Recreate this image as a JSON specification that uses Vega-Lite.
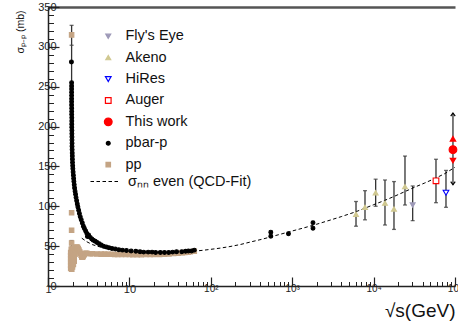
{
  "$schema": "https://vega.github.io/schema/vega-lite/v6.json",
  "width": 407,
  "height": 279,
  "autosize": "none",
  "padding": {"left": 48, "top": 7, "right": 3, "bottom": 41},
  "background": "white",
  "datasets": {
    "pts": [
      {"series": "pp", "s": 1.95, "sigma": 315},
      {"series": "pp", "s": 1.95, "sigma": 92},
      {"series": "pp", "s": 1.95, "sigma": 70},
      {"series": "pp", "s": 1.95, "sigma": 54},
      {"series": "pp", "s": 1.9, "sigma": 22}, {"series": "pp", "s": 1.9, "sigma": 26}, {"series": "pp", "s": 1.9, "sigma": 30}, {"series": "pp", "s": 1.9, "sigma": 34}, {"series": "pp", "s": 1.9, "sigma": 38}, {"series": "pp", "s": 1.9, "sigma": 42},
      {"series": "pp", "s": 1.93, "sigma": 24}, {"series": "pp", "s": 1.93, "sigma": 29}, {"series": "pp", "s": 1.93, "sigma": 35}, {"series": "pp", "s": 1.93, "sigma": 41}, {"series": "pp", "s": 1.93, "sigma": 46},
      {"series": "pp", "s": 1.96, "sigma": 21}, {"series": "pp", "s": 1.96, "sigma": 27}, {"series": "pp", "s": 1.96, "sigma": 33}, {"series": "pp", "s": 1.96, "sigma": 39}, {"series": "pp", "s": 1.96, "sigma": 45},
      {"series": "pp", "s": 2.0, "sigma": 24}, {"series": "pp", "s": 2.0, "sigma": 30}, {"series": "pp", "s": 2.0, "sigma": 36}, {"series": "pp", "s": 2.0, "sigma": 42}, {"series": "pp", "s": 2.0, "sigma": 47},
      {"series": "pp", "s": 2.05, "sigma": 27}, {"series": "pp", "s": 2.05, "sigma": 33}, {"series": "pp", "s": 2.05, "sigma": 39}, {"series": "pp", "s": 2.05, "sigma": 45},
      {"series": "pp", "s": 2.1, "sigma": 31}, {"series": "pp", "s": 2.1, "sigma": 37}, {"series": "pp", "s": 2.1, "sigma": 43}, {"series": "pp", "s": 2.1, "sigma": 47},
      {"series": "pp", "s": 2.15, "sigma": 40}, {"series": "pp", "s": 2.15, "sigma": 47},
      {"series": "pp", "s": 2.2, "sigma": 48}, {"series": "pp", "s": 2.25, "sigma": 49}, {"series": "pp", "s": 2.3, "sigma": 48.5}, {"series": "pp", "s": 2.35, "sigma": 47}, {"series": "pp", "s": 2.4, "sigma": 45}, {"series": "pp", "s": 2.45, "sigma": 43}, {"series": "pp", "s": 2.5, "sigma": 41}, {"series": "pp", "s": 2.55, "sigma": 38.5}, {"series": "pp", "s": 2.6, "sigma": 36.5}, {"series": "pp", "s": 2.65, "sigma": 36}, {"series": "pp", "s": 2.7, "sigma": 37}, {"series": "pp", "s": 2.75, "sigma": 38.5}, {"series": "pp", "s": 2.8, "sigma": 40}, {"series": "pp", "s": 2.9, "sigma": 41},
      {"series": "pp", "s": 3.0, "sigma": 41}, {"series": "pp", "s": 3.3, "sigma": 40.5}, {"series": "pp", "s": 3.5, "sigma": 40.5}, {"series": "pp", "s": 4, "sigma": 40.2}, {"series": "pp", "s": 4.5, "sigma": 40}, {"series": "pp", "s": 5, "sigma": 40}, {"series": "pp", "s": 5.5, "sigma": 39.8}, {"series": "pp", "s": 6, "sigma": 39.8}, {"series": "pp", "s": 6.6, "sigma": 39.6}, {"series": "pp", "s": 7.2, "sigma": 39.5}, {"series": "pp", "s": 8, "sigma": 39.5}, {"series": "pp", "s": 9, "sigma": 39.5}, {"series": "pp", "s": 10, "sigma": 39.5}, {"series": "pp", "s": 11, "sigma": 39.3}, {"series": "pp", "s": 12.5, "sigma": 39.3}, {"series": "pp", "s": 14, "sigma": 39.4}, {"series": "pp", "s": 16, "sigma": 39.5}, {"series": "pp", "s": 18, "sigma": 39.6}, {"series": "pp", "s": 20, "sigma": 39.7}, {"series": "pp", "s": 22, "sigma": 39.8}, {"series": "pp", "s": 23.5, "sigma": 39.5}, {"series": "pp", "s": 25, "sigma": 39.8}, {"series": "pp", "s": 27, "sigma": 40}, {"series": "pp", "s": 30.6, "sigma": 40.3}, {"series": "pp", "s": 35, "sigma": 40.8}, {"series": "pp", "s": 40, "sigma": 41.2}, {"series": "pp", "s": 44.7, "sigma": 41.6}, {"series": "pp", "s": 48, "sigma": 42}, {"series": "pp", "s": 52.8, "sigma": 42.5}, {"series": "pp", "s": 56, "sigma": 43}, {"series": "pp", "s": 62.7, "sigma": 43.5},
      {"series": "pbar-p", "s": 1.94, "sigma": 281},
      {"series": "pbar-p", "s": 1.95, "sigma": 255}, {"series": "pbar-p", "s": 1.95, "sigma": 251}, {"series": "pbar-p", "s": 1.95, "sigma": 247}, {"series": "pbar-p", "s": 1.95, "sigma": 243}, {"series": "pbar-p", "s": 1.95, "sigma": 239}, {"series": "pbar-p", "s": 1.95, "sigma": 235}, {"series": "pbar-p", "s": 1.95, "sigma": 231}, {"series": "pbar-p", "s": 1.95, "sigma": 227},
      {"series": "pbar-p", "s": 1.955, "sigma": 223}, {"series": "pbar-p", "s": 1.955, "sigma": 219}, {"series": "pbar-p", "s": 1.955, "sigma": 215}, {"series": "pbar-p", "s": 1.96, "sigma": 211}, {"series": "pbar-p", "s": 1.96, "sigma": 207}, {"series": "pbar-p", "s": 1.96, "sigma": 203}, {"series": "pbar-p", "s": 1.96, "sigma": 199}, {"series": "pbar-p", "s": 1.965, "sigma": 195}, {"series": "pbar-p", "s": 1.965, "sigma": 191}, {"series": "pbar-p", "s": 1.97, "sigma": 187}, {"series": "pbar-p", "s": 1.97, "sigma": 183}, {"series": "pbar-p", "s": 1.975, "sigma": 179}, {"series": "pbar-p", "s": 1.975, "sigma": 175}, {"series": "pbar-p", "s": 1.98, "sigma": 171}, {"series": "pbar-p", "s": 1.985, "sigma": 167}, {"series": "pbar-p", "s": 1.99, "sigma": 163}, {"series": "pbar-p", "s": 1.995, "sigma": 159}, {"series": "pbar-p", "s": 2.0, "sigma": 155}, {"series": "pbar-p", "s": 2.01, "sigma": 151}, {"series": "pbar-p", "s": 2.02, "sigma": 147}, {"series": "pbar-p", "s": 2.035, "sigma": 143}, {"series": "pbar-p", "s": 2.05, "sigma": 139}, {"series": "pbar-p", "s": 2.065, "sigma": 135}, {"series": "pbar-p", "s": 2.08, "sigma": 131}, {"series": "pbar-p", "s": 2.1, "sigma": 127}, {"series": "pbar-p", "s": 2.12, "sigma": 123}, {"series": "pbar-p", "s": 2.15, "sigma": 119}, {"series": "pbar-p", "s": 2.18, "sigma": 115}, {"series": "pbar-p", "s": 2.21, "sigma": 111}, {"series": "pbar-p", "s": 2.25, "sigma": 107}, {"series": "pbar-p", "s": 2.29, "sigma": 103}, {"series": "pbar-p", "s": 2.33, "sigma": 99}, {"series": "pbar-p", "s": 2.38, "sigma": 95}, {"series": "pbar-p", "s": 2.43, "sigma": 91}, {"series": "pbar-p", "s": 2.49, "sigma": 87}, {"series": "pbar-p", "s": 2.56, "sigma": 83}, {"series": "pbar-p", "s": 2.64, "sigma": 79}, {"series": "pbar-p", "s": 2.72, "sigma": 75}, {"series": "pbar-p", "s": 2.8, "sigma": 72}, {"series": "pbar-p", "s": 2.9, "sigma": 69}, {"series": "pbar-p", "s": 3.0, "sigma": 66}, {"series": "pbar-p", "s": 3.05, "sigma": 62}, {"series": "pbar-p", "s": 3.15, "sigma": 64}, {"series": "pbar-p", "s": 3.3, "sigma": 61}, {"series": "pbar-p", "s": 3.45, "sigma": 59}, {"series": "pbar-p", "s": 3.6, "sigma": 57.5}, {"series": "pbar-p", "s": 3.8, "sigma": 56}, {"series": "pbar-p", "s": 4.0, "sigma": 54.5}, {"series": "pbar-p", "s": 4.25, "sigma": 53}, {"series": "pbar-p", "s": 4.5, "sigma": 51.5}, {"series": "pbar-p", "s": 4.8, "sigma": 50}, {"series": "pbar-p", "s": 5.2, "sigma": 49}, {"series": "pbar-p", "s": 5.6, "sigma": 48}, {"series": "pbar-p", "s": 6.1, "sigma": 47}, {"series": "pbar-p", "s": 6.7, "sigma": 46.5}, {"series": "pbar-p", "s": 7.4, "sigma": 45.5}, {"series": "pbar-p", "s": 8.2, "sigma": 45}, {"series": "pbar-p", "s": 9.2, "sigma": 44.5}, {"series": "pbar-p", "s": 10.5, "sigma": 44}, {"series": "pbar-p", "s": 12, "sigma": 43.5}, {"series": "pbar-p", "s": 13.5, "sigma": 43}, {"series": "pbar-p", "s": 15, "sigma": 42.5}, {"series": "pbar-p", "s": 17, "sigma": 42.5}, {"series": "pbar-p", "s": 19, "sigma": 42.5}, {"series": "pbar-p", "s": 21, "sigma": 42}, {"series": "pbar-p", "s": 24, "sigma": 42}, {"series": "pbar-p", "s": 27, "sigma": 42}, {"series": "pbar-p", "s": 30.4, "sigma": 42}, {"series": "pbar-p", "s": 34, "sigma": 42.5}, {"series": "pbar-p", "s": 38, "sigma": 43}, {"series": "pbar-p", "s": 44, "sigma": 43}, {"series": "pbar-p", "s": 49, "sigma": 43.5}, {"series": "pbar-p", "s": 53, "sigma": 44}, {"series": "pbar-p", "s": 58, "sigma": 44}, {"series": "pbar-p", "s": 62.7, "sigma": 45},
      {"series": "pbar-p", "s": 546, "sigma": 62.5}, {"series": "pbar-p", "s": 546, "sigma": 67.5}, {"series": "pbar-p", "s": 900, "sigma": 65.5}, {"series": "pbar-p", "s": 1800, "sigma": 72.5}, {"series": "pbar-p", "s": 1800, "sigma": 79.5},
      {"series": "Akeno", "s": 6080, "sigma": 90}, {"series": "Akeno", "s": 7840, "sigma": 98.7}, {"series": "Akeno", "s": 10600, "sigma": 117}, {"series": "Akeno", "s": 13800, "sigma": 104}, {"series": "Akeno", "s": 17800, "sigma": 96.6}, {"series": "Akeno", "s": 24300, "sigma": 124.6},
      {"series": "Fly's Eye", "s": 30200, "sigma": 101.6},
      {"series": "Auger", "s": 58400, "sigma": 132},
      {"series": "HiRes", "s": 77500, "sigma": 117},
      {"series": "This work", "s": 94400, "sigma": 171}
    ],
    "fit": [
      {"curve": "σₙₙ even (QCD-Fit)", "s": 2.6, "sigma": 60}, {"curve": "σₙₙ even (QCD-Fit)", "s": 3, "sigma": 55.5}, {"curve": "σₙₙ even (QCD-Fit)", "s": 3.5, "sigma": 52}, {"curve": "σₙₙ even (QCD-Fit)", "s": 4, "sigma": 50}, {"curve": "σₙₙ even (QCD-Fit)", "s": 5, "sigma": 47.5}, {"curve": "σₙₙ even (QCD-Fit)", "s": 6.3, "sigma": 45.5}, {"curve": "σₙₙ even (QCD-Fit)", "s": 8, "sigma": 44}, {"curve": "σₙₙ even (QCD-Fit)", "s": 10, "sigma": 43}, {"curve": "σₙₙ even (QCD-Fit)", "s": 13, "sigma": 42}, {"curve": "σₙₙ even (QCD-Fit)", "s": 16, "sigma": 41.5}, {"curve": "σₙₙ even (QCD-Fit)", "s": 20, "sigma": 41.2}, {"curve": "σₙₙ even (QCD-Fit)", "s": 25, "sigma": 41.2}, {"curve": "σₙₙ even (QCD-Fit)", "s": 32, "sigma": 41.5}, {"curve": "σₙₙ even (QCD-Fit)", "s": 40, "sigma": 42}, {"curve": "σₙₙ even (QCD-Fit)", "s": 50, "sigma": 42.8}, {"curve": "σₙₙ even (QCD-Fit)", "s": 63, "sigma": 43.7}, {"curve": "σₙₙ even (QCD-Fit)", "s": 80, "sigma": 44.8}, {"curve": "σₙₙ even (QCD-Fit)", "s": 100, "sigma": 46}, {"curve": "σₙₙ even (QCD-Fit)", "s": 130, "sigma": 47.5}, {"curve": "σₙₙ even (QCD-Fit)", "s": 172, "sigma": 49.5}, {"curve": "σₙₙ even (QCD-Fit)", "s": 230, "sigma": 52}, {"curve": "σₙₙ even (QCD-Fit)", "s": 316, "sigma": 55.5}, {"curve": "σₙₙ even (QCD-Fit)", "s": 420, "sigma": 58.5}, {"curve": "σₙₙ even (QCD-Fit)", "s": 562, "sigma": 62}, {"curve": "σₙₙ even (QCD-Fit)", "s": 750, "sigma": 65.5}, {"curve": "σₙₙ even (QCD-Fit)", "s": 1000, "sigma": 69}, {"curve": "σₙₙ even (QCD-Fit)", "s": 1400, "sigma": 73}, {"curve": "σₙₙ even (QCD-Fit)", "s": 2000, "sigma": 77.5}, {"curve": "σₙₙ even (QCD-Fit)", "s": 3000, "sigma": 83}, {"curve": "σₙₙ even (QCD-Fit)", "s": 4000, "sigma": 87}, {"curve": "σₙₙ even (QCD-Fit)", "s": 6000, "sigma": 93}, {"curve": "σₙₙ even (QCD-Fit)", "s": 8000, "sigma": 98}, {"curve": "σₙₙ even (QCD-Fit)", "s": 10000, "sigma": 102}, {"curve": "σₙₙ even (QCD-Fit)", "s": 13800, "sigma": 107.5}, {"curve": "σₙₙ even (QCD-Fit)", "s": 18000, "sigma": 112.5}, {"curve": "σₙₙ even (QCD-Fit)", "s": 24300, "sigma": 118.5}, {"curve": "σₙₙ even (QCD-Fit)", "s": 32000, "sigma": 124}, {"curve": "σₙₙ even (QCD-Fit)", "s": 42000, "sigma": 129}, {"curve": "σₙₙ even (QCD-Fit)", "s": 57000, "sigma": 135}, {"curve": "σₙₙ even (QCD-Fit)", "s": 75000, "sigma": 141}, {"curve": "σₙₙ even (QCD-Fit)", "s": 100000, "sigma": 149}
    ],
    "err": [
      {"s": 1.95, "lo": 302, "hi": 327},
      {"s": 1.95, "lo": 49, "hi": 57},
      {"s": 6080, "lo": 75, "hi": 106},
      {"s": 7840, "lo": 83, "hi": 119.6},
      {"s": 10600, "lo": 100, "hi": 134},
      {"s": 13800, "lo": 76.5, "hi": 133},
      {"s": 17800, "lo": 71, "hi": 131},
      {"s": 24300, "lo": 101.6, "hi": 163},
      {"s": 30200, "lo": 82, "hi": 125.5},
      {"s": 58400, "lo": 104.5, "hi": 159},
      {"s": 77500, "lo": 98.7, "hi": 145}
    ],
    "bars": [
      {"s": 1.95, "lo": 255, "hi": 302},
      {"s": 94400, "lo": 127, "hi": 217}
    ],
    "tw": [
      {"s": 94400, "sigma": 185, "part": "up"},
      {"s": 94400, "sigma": 157, "part": "down"}
    ],
    "arrows": [
      {"s": 94400, "sigma": 217, "dir": "up"},
      {"s": 94400, "sigma": 127, "dir": "down"}
    ]
  },
  "resolve": {"axis": {"x": "independent", "y": "independent"}},
  "layer": [
    {
      "data": {"name": "err"},
      "mark": {"type": "errorbar", "ticks": {"size": 4}, "color": "#333333", "thickness": 1.3},
      "encoding": {
        "x": {"field": "s", "type": "quantitative", "scale": {"type": "log", "domain": [1, 100000], "nice": false}, "axis": null},
        "y": {"field": "lo", "type": "quantitative", "scale": {"domain": [0, 350], "nice": false, "zero": false}, "axis": null},
        "y2": {"field": "hi"}
      }
    },
    {
      "data": {"name": "bars"},
      "mark": {"type": "rule", "color": "#333333", "strokeWidth": 1.3},
      "encoding": {
        "x": {"field": "s", "type": "quantitative", "scale": {"type": "log", "domain": [1, 100000], "nice": false},
          "axis": {"orient": "bottom", "values": [2,3,4,5,6,7,8,9,20,30,40,50,60,70,80,90,200,300,400,500,600,700,800,900,2000,3000,4000,5000,6000,7000,8000,9000,20000,30000,40000,50000,60000,70000,80000,90000], "labels": false, "tickSize": -4.5, "tickColor": "#222222", "tickWidth": 1, "domain": false, "title": null, "grid": false}},
        "y": {"field": "lo", "type": "quantitative", "scale": {"domain": [0, 350], "nice": false, "zero": false}, "axis": null},
        "y2": {"field": "hi"}
      }
    },
    {
      "data": {"name": "fit"},
      "mark": {"type": "line", "color": "#000000", "strokeWidth": 1},
      "encoding": {
        "x": {"field": "s", "type": "quantitative", "scale": {"type": "log", "domain": [1, 100000], "nice": false},
          "axis": {"orient": "top", "ticks": false, "labels": false, "domain": true, "domainColor": "#555555", "domainWidth": 2.5, "title": null, "grid": false}},
        "y": {"field": "sigma", "type": "quantitative", "scale": {"domain": [0, 350], "nice": false, "zero": false}, "axis": null},
        "strokeDash": {"field": "curve", "type": "nominal", "scale": {"range": [[3.5, 2.5]]},
          "legend": {"title": null, "orient": "none", "legendX": 42, "legendY": 159, "symbolType": "stroke", "symbolSize": 900, "symbolStrokeColor": "#000000", "symbolStrokeWidth": 1, "labelFontSize": 14.5, "labelFont": "Liberation Sans", "labelColor": "#111111", "labelOffset": 7, "labelLimit": 300, "padding": 0}}
      }
    },
    {
      "data": {"name": "pts"},
      "mark": {"type": "point", "filled": true, "strokeWidth": 1.1, "opacity": 1},
      "encoding": {
        "x": {"field": "s", "type": "quantitative", "scale": {"type": "log", "domain": [1, 100000], "nice": false},
          "axis": {"orient": "bottom", "values": [1, 10, 100, 1000, 10000, 100000],
            "labelExpr": "datum.value == 1 ? '1' : datum.value == 10 ? '10' : datum.value == 100 ? '10²' : datum.value == 1000 ? '10³' : datum.value == 10000 ? '10⁴' : '10⁵'",
            "labelFontSize": {"condition": {"test": "datum.value >= 100", "value": 10}, "value": 11},
            "labelFont": "Liberation Sans", "labelColor": "#222222", "labelPadding": 6, "labelFlush": false, "labelOverlap": false, "labelBound": false,
            "tickSize": -9, "tickColor": "#222222", "tickWidth": 1.2, "domainColor": "#222222", "domainWidth": 1.5, "grid": false,
            "title": "√s(GeV)", "titleFont": "Liberation Sans", "titleFontSize": 19, "titleFontWeight": "normal", "titleColor": "#111111",
            "titleX": 407, "titleY": 30, "titleAlign": "right", "titleBaseline": "alphabetic"}},
        "y": {"field": "sigma", "type": "quantitative", "scale": {"domain": [0, 350], "nice": false, "zero": false},
          "axis": {"orient": "left", "values": [0, 50, 100, 150, 200, 250, 300, 350], "labelFontSize": 11, "labelFont": "Liberation Sans", "labelColor": "#222222", "labelPadding": 3,
            "tickSize": -11, "tickColor": "#222222", "tickWidth": 1.2, "domainColor": "#222222", "domainWidth": 1.5, "grid": false,
            "title": "σₚ₋ₚ (mb)", "titleFont": "Liberation Sans", "titleFontSize": 10.5, "titleFontWeight": "normal", "titleColor": "#111111",
            "titleAngle": -90, "titleX": -25, "titleY": 3, "titleAlign": "right", "titleBaseline": "alphabetic"}},
        "shape": {"field": "series", "type": "nominal",
          "scale": {"domain": ["Fly's Eye", "Akeno", "HiRes", "Auger", "This work", "pbar-p", "pp"], "range": ["triangle-down", "triangle-up", "triangle-down", "square", "circle", "circle", "square"]},
          "legend": {"title": null, "orient": "none", "legendX": 53, "legendY": 22, "labelFontSize": 14.5, "labelFont": "Liberation Sans", "labelColor": "#111111", "labelOffset": 10, "rowPadding": 6.4, "padding": 0, "labelLimit": 300, "symbolStrokeWidth": 1.2, "symbolOpacity": 1}},
        "fill": {"field": "series", "type": "nominal",
          "scale": {"type": "ordinal", "domain": ["Fly's Eye", "Akeno", "HiRes", "Auger", "This work", "pbar-p", "pp"], "range": ["#9e9ab8", "#d0c890", "#ffffff", "#ffffff", "#ff0000", "#000000", "#c4a484"]},
          "legend": {"title": null, "orient": "none", "legendX": 53, "legendY": 22, "labelFontSize": 14.5, "labelFont": "Liberation Sans", "labelColor": "#111111", "labelOffset": 10, "rowPadding": 6.4, "padding": 0, "labelLimit": 300, "symbolStrokeWidth": 1.2, "symbolOpacity": 1}},
        "stroke": {"field": "series", "type": "nominal",
          "scale": {"type": "ordinal", "domain": ["Fly's Eye", "Akeno", "HiRes", "Auger", "This work", "pbar-p", "pp"], "range": ["#9e9ab8", "#d0c890", "#0000ff", "#ff0000", "#ff0000", "#000000", "#c4a484"]},
          "legend": {"title": null, "orient": "none", "legendX": 53, "legendY": 22, "labelFontSize": 14.5, "labelFont": "Liberation Sans", "labelColor": "#111111", "labelOffset": 10, "rowPadding": 6.4, "padding": 0, "labelLimit": 300, "symbolStrokeWidth": 1.2, "symbolOpacity": 1}},
        "size": {"field": "series", "type": "nominal",
          "scale": {"type": "ordinal", "domain": ["Fly's Eye", "Akeno", "HiRes", "Auger", "This work", "pbar-p", "pp"], "range": [24, 24, 32, 32, 60, 15, 20]},
          "legend": {"title": null, "orient": "none", "legendX": 53, "legendY": 22, "labelFontSize": 14.5, "labelFont": "Liberation Sans", "labelColor": "#111111", "labelOffset": 10, "rowPadding": 6.4, "padding": 0, "labelLimit": 300, "symbolStrokeWidth": 1.2, "symbolOpacity": 1}}
      }
    },
    {
      "data": {"name": "tw"},
      "transform": [{"filter": {"field": "part", "equal": "up"}}],
      "mark": {"type": "point", "shape": "triangle-up", "filled": true, "color": "#ff0000", "opacity": 1, "size": 55},
      "encoding": {
        "x": {"field": "s", "type": "quantitative", "scale": {"type": "log", "domain": [1, 100000], "nice": false}, "axis": null},
        "y": {"field": "sigma", "type": "quantitative", "scale": {"domain": [0, 350], "nice": false, "zero": false},
          "axis": {"orient": "left", "values": [10,20,30,40,60,70,80,90,110,120,130,140,160,170,180,190,210,220,230,240,260,270,280,290,310,320,330,340], "labels": false, "tickSize": -5.5, "tickColor": "#222222", "tickWidth": 1, "domain": false, "title": null, "grid": false}}
      }
    },
    {
      "data": {"name": "tw"},
      "transform": [{"filter": {"field": "part", "equal": "down"}}],
      "mark": {"type": "point", "shape": "triangle-down", "filled": true, "color": "#ff0000", "opacity": 1, "size": 55},
      "encoding": {
        "x": {"field": "s", "type": "quantitative", "scale": {"type": "log", "domain": [1, 100000], "nice": false}, "axis": null},
        "y": {"field": "sigma", "type": "quantitative", "scale": {"domain": [0, 350], "nice": false, "zero": false}, "axis": null}
      }
    },
    {
      "data": {"name": "arrows"},
      "transform": [{"filter": {"field": "dir", "equal": "up"}}],
      "mark": {"type": "point", "shape": "M-1,1.4L0,0L1,1.4", "filled": false, "color": "#000000", "opacity": 1, "size": 20, "strokeWidth": 1.2},
      "encoding": {
        "x": {"field": "s", "type": "quantitative", "scale": {"type": "log", "domain": [1, 100000], "nice": false}, "axis": null},
        "y": {"field": "sigma", "type": "quantitative", "scale": {"domain": [0, 350], "nice": false, "zero": false}, "axis": null}
      }
    },
    {
      "data": {"name": "arrows"},
      "transform": [{"filter": {"field": "dir", "equal": "down"}}],
      "mark": {"type": "point", "shape": "M-1,-1.4L0,0L1,-1.4", "filled": false, "color": "#000000", "opacity": 1, "size": 20, "strokeWidth": 1.2},
      "encoding": {
        "x": {"field": "s", "type": "quantitative", "scale": {"type": "log", "domain": [1, 100000], "nice": false}, "axis": null},
        "y": {"field": "sigma", "type": "quantitative", "scale": {"domain": [0, 350], "nice": false, "zero": false}, "axis": null}
      }
    }
  ],
  "config": {
    "view": {"stroke": null},
    "axis": {"grid": false},
    "font": "Liberation Sans"
  }
}
